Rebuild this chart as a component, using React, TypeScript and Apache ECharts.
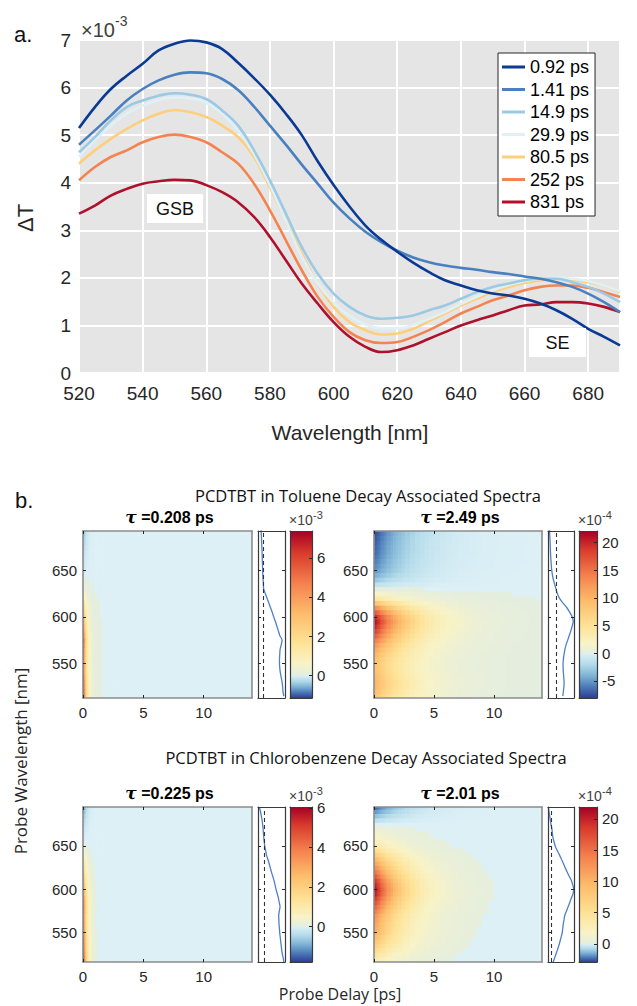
import React, { useEffect, useRef } from 'react';
import * as echarts from 'echarts';

// ---------- Panel a: transient spectra ----------
const WAVELENGTHS = [520, 525, 530, 535, 540, 545, 550, 555, 560, 565, 570, 575, 580, 585, 590, 595, 600, 605, 610, 615, 620, 625, 630, 635, 640, 645, 650, 655, 660, 665, 670, 675, 680, 685, 690];
const LEGEND_LABELS = ['0.92 ps', '1.41 ps', '14.9 ps', '29.9 ps', '80.5 ps', '252 ps', '831 ps'];
const DT_092 = [5.15, 5.59, 5.97, 6.25, 6.5, 6.78, 6.92, 6.99, 6.95, 6.81, 6.52, 6.2, 5.85, 5.45, 5.0, 4.45, 3.95, 3.5, 3.1, 2.8, 2.55, 2.32, 2.12, 1.95, 1.84, 1.74, 1.67, 1.63, 1.56, 1.46, 1.32, 1.14, 0.93, 0.76, 0.58];
const DT_141 = [4.8, 5.1, 5.41, 5.73, 5.97, 6.15, 6.27, 6.32, 6.3, 6.18, 5.95, 5.6, 5.2, 4.8, 4.38, 3.98, 3.58, 3.25, 2.97, 2.75, 2.57, 2.43, 2.33, 2.26, 2.21, 2.17, 2.12, 2.08, 2.03, 1.98, 1.91, 1.81, 1.67, 1.49, 1.28];
const DT_149 = [4.64, 4.96, 5.31, 5.59, 5.73, 5.83, 5.88, 5.85, 5.76, 5.52, 5.2, 4.68, 4.05, 3.35, 2.65, 2.09, 1.67, 1.39, 1.21, 1.14, 1.16, 1.21, 1.32, 1.42, 1.56, 1.7, 1.81, 1.88, 1.95, 1.98, 1.98, 1.91, 1.81, 1.67, 1.49];
const DT_299 = [4.55, 4.9, 5.2, 5.45, 5.62, 5.74, 5.79, 5.77, 5.68, 5.45, 5.1, 4.6, 3.95, 3.2, 2.45, 1.88, 1.48, 1.2, 1.02, 0.94, 0.94, 1.01, 1.14, 1.28, 1.45, 1.6, 1.74, 1.85, 1.93, 1.98, 2.0, 1.98, 1.93, 1.84, 1.72];
const DT_805 = [4.4, 4.68, 4.92, 5.13, 5.31, 5.45, 5.53, 5.48, 5.38, 5.2, 4.96, 4.54, 3.9, 3.21, 2.51, 1.88, 1.39, 1.07, 0.9, 0.81, 0.83, 0.93, 1.09, 1.25, 1.42, 1.56, 1.7, 1.81, 1.89, 1.95, 1.98, 1.96, 1.91, 1.84, 1.7];
const DT_252 = [4.05, 4.33, 4.54, 4.68, 4.85, 4.96, 5.01, 4.96, 4.85, 4.64, 4.4, 3.98, 3.42, 2.79, 2.16, 1.6, 1.18, 0.86, 0.69, 0.63, 0.65, 0.76, 0.9, 1.07, 1.25, 1.39, 1.53, 1.63, 1.74, 1.81, 1.84, 1.84, 1.79, 1.7, 1.6];
const DT_831 = [3.35, 3.52, 3.73, 3.87, 3.98, 4.03, 4.06, 4.05, 3.95, 3.8, 3.59, 3.28, 2.86, 2.37, 1.88, 1.46, 1.07, 0.76, 0.55, 0.44, 0.48, 0.58, 0.72, 0.86, 1.0, 1.11, 1.21, 1.32, 1.42, 1.44, 1.49, 1.49, 1.46, 1.39, 1.28];
const TRACES = [DT_092, DT_141, DT_149, DT_299, DT_805, DT_252, DT_831];
const TRACE_COLORS = ['#0b3a94', '#4a7fc0', '#9cc9e3', '#dff1f6', '#fdcf7c', '#f5834f', '#af102c'];

// ---------- Panel b: decay associated spectra ----------
const PROBE_WL = [515, 520, 525, 530, 535, 540, 545, 550, 555, 560, 565, 570, 575, 580, 585, 590, 595, 600, 605, 610, 615, 620, 625, 630, 635, 640, 645, 650, 655, 660, 665, 670, 675, 680, 685, 690, 695];
const DELAYS = [0, 0.05, 0.1, 0.15, 0.2, 0.25, 0.3, 0.4, 0.5, 0.6, 0.7, 0.8, 0.9, 1.0, 1.1, 1.2, 1.4, 1.6, 1.8, 2.0, 2.3, 2.6, 3.0, 3.4, 3.8, 4.2, 4.6, 5.0, 5.5, 6.0, 6.5, 7.0, 7.5, 8.0, 8.5, 9.0, 9.5, 10.0, 10.5, 11.0, 11.5, 12.0, 12.5, 13.0, 13.5, 14.0];
const DAS_TOL_FAST = [7.2, 6.9, 6.8, 6.6, 6.3, 6.0, 5.8, 5.7, 5.7, 5.8, 5.9, 6.3, 6.6, 5.8, 5.3, 4.8, 4.3, 3.7, 3.2, 2.6, 2.0, 1.4, 0.8, 0.25, 0.15, 0.05, -0.05, -0.1, -0.15, -0.2, -0.25, -0.3, -0.38, -0.45, -0.5, -0.6, -0.65];
const DAS_TOL_SLOW = [8.8, 9.5, 10.2, 10.4, 10.0, 9.5, 9.2, 9.1, 9.6, 10.4, 11.5, 12.9, 15.0, 17.0, 19.0, 20.7, 22.0, 20.7, 17.5, 13.7, 8.8, 4.5, 1.8, 0.1, -1.6, -3.2, -4.4, -5.3, -5.8, -6.2, -6.6, -6.9, -7.1, -7.3, -7.6, -7.9, -8.0];
const DAS_CB_FAST = [6.0, 5.8, 5.5, 5.3, 5.15, 5.0, 4.85, 4.7, 4.6, 4.5, 4.45, 4.4, 4.6, 4.8, 4.55, 4.3, 3.95, 3.6, 3.3, 3.0, 2.6, 2.2, 1.85, 1.5, 1.1, 0.7, 0.45, 0.2, 0.05, -0.1, -0.2, -0.3, -0.45, -0.6, -0.85, -1.1, -1.4];
const DAS_CB_SLOW = [1.9, 3.4, 4.8, 6.3, 7.6, 8.8, 9.9, 10.9, 11.4, 11.9, 12.6, 13.4, 15.0, 16.6, 18.2, 19.7, 21.3, 21.9, 21.0, 19.7, 17.6, 15.6, 13.7, 11.9, 10.0, 8.1, 6.0, 4.1, 3.0, 1.9, 1.4, 0.9, 0.1, -0.6, -1.25, -1.9, -2.5];
const DAS = [DAS_TOL_FAST, DAS_TOL_SLOW, DAS_CB_FAST, DAS_CB_SLOW];
const TAUS = [0.208, 2.49, 0.225, 2.01];
const TAU_LABELS = ['0.208', '2.49', '0.225', '2.01'];
const CB_RANGE = [[-1.16, 7.37], [-8.1, 22.1], [-1.8, 6.05], [-2.9, 21.9]];
const CB_TICKS = [[0, 2, 4, 6], [-5, 0, 5, 10, 15, 20], [0, 2, 4, 6], [0, 5, 10, 15, 20]];
const CB_EXPONENT = ['-3', '-4', '-3', '-4'];
const SIDE_RANGE = [[-1.7, 7.6], [-10, 23], [-1.83, 6.3], [-2.8, 22.2]];
const ZERO_BAND = [0.005, 0.02, 0.035, 0.17];
const WL_RANGE = [[513, 692], [516, 695]];
const WL_TICKS = [550, 600, 650];
const DELAY_TICKS = [0, 5, 10];
const SECTION_TITLES = ['PCDTBT in Toluene Decay Associated Spectra', 'PCDTBT in Chlorobenzene Decay Associated Spectra'];

// ---------- styling ----------
const FONT_A = '"Liberation Sans", Arial, Helvetica, sans-serif';
const FONT_B = '"Open Sans", "Noto Sans", sans-serif';
const POS_STOPS: [number, string][] = [[0, '#e4eedf'], [0.08, '#f8f3c7'], [0.22, '#fee397'], [0.42, '#fdbe6c'], [0.63, '#f5834f'], [0.85, '#d83a2c'], [1, '#a50026']];
const NEG_STOPS: [number, string][] = [[0, '#ddf0f6'], [0.25, '#b3dbea'], [0.5, '#7fb3d5'], [0.75, '#4b7bb8'], [1, '#303c94']];
const ZERO_COLOR = '#ddf0f6';

const HM_LEFT = [83, 374, 83, 374];
const HM_WIDTH = [169, 168, 169, 168];
const SIDE_LEFT = [258, 548, 258, 548];
const SIDE_WIDTH = [27, 26, 27, 26];
const CB_LEFT = [290, 579, 290, 579];
const CB_WIDTH = [22, 18, 22, 18];
const ROW_TOP = [531, 807];
const ROW_HEIGHT = [167, 155];

function hexToRgb(h: string) {
  const n = parseInt(h.slice(1), 16);
  return [(n >> 16) & 255, (n >> 8) & 255, n & 255];
}
function lerpStops(stops: [number, string][], r: number) {
  const x = Math.max(0, Math.min(1, r));
  for (let i = 1; i < stops.length; i++) {
    if (x <= stops[i][0]) {
      const [a0, c0] = stops[i - 1];
      const [a1, c1] = stops[i];
      const f = (x - a0) / (a1 - a0);
      const p = hexToRgb(c0), q = hexToRgb(c1);
      const c = p.map((v, k) => Math.round(v + (q[k] - v) * f));
      return `rgb(${c[0]},${c[1]},${c[2]})`;
    }
  }
  return stops[stops.length - 1][1];
}
function dasColor(v: number, lo: number, hi: number, thr: number) {
  if (v >= thr) return lerpStops(POS_STOPS, v / hi);
  if (v >= 0) return ZERO_COLOR;
  return lerpStops(NEG_STOPS, v / lo);
}

function buildOption() {
  const grids: any[] = [];
  const xAxes: any[] = [];
  const yAxes: any[] = [];
  const series: any[] = [];
  const graphics: any[] = [];
  const labelColor = '#262626';

  // ---- panel a ----
  grids.push({ left: 79, top: 40, width: 541, height: 333, show: true, backgroundColor: '#e5e5e5', borderWidth: 0, outerBoundsMode: 'none' });
  xAxes.push({
    gridIndex: 0, type: 'value', min: 520, max: 690, interval: 20,
    axisLine: { show: false, onZero: false }, axisTick: { show: false },
    splitLine: { show: true, lineStyle: { color: '#ffffff', width: 2 } },
    axisLabel: { fontSize: 19, color: labelColor, margin: 11, fontFamily: FONT_A, showMaxLabel: false },
  });
  yAxes.push({
    gridIndex: 0, type: 'value', min: 0, max: 7, interval: 1,
    axisLine: { show: false, onZero: false }, axisTick: { show: false },
    splitLine: { show: true, lineStyle: { color: '#ffffff', width: 2 } },
    axisLabel: { fontSize: 19, color: labelColor, margin: 8, fontFamily: FONT_A },
  });
  TRACES.forEach((vals, i) => {
    series.push({
      type: 'line', name: LEGEND_LABELS[i], xAxisIndex: 0, yAxisIndex: 0,
      data: WAVELENGTHS.map((w, k) => [w, vals[k]]),
      showSymbol: false, symbol: 'none', smooth: 0.4,
      lineStyle: { color: TRACE_COLORS[i], width: 2.6 }, itemStyle: { color: TRACE_COLORS[i] },
      z: 3 + (TRACES.length - i),
    });
  });

  // ---- panel b ----
  const addAxisPair = (g: number, kind: 'x' | 'y', base: any, second: any) => {
    const arr = kind === 'x' ? xAxes : yAxes;
    const idx = arr.length;
    arr.push({ gridIndex: g, type: 'value', z: 5, ...base });
    arr.push({ gridIndex: g, type: 'value', z: 5, ...second });
    return idx;
  };

  for (let p = 0; p < 4; p++) {
    const row = p < 2 ? 0 : 1;
    const top = ROW_TOP[row];
    const height = ROW_HEIGHT[row];
    const [wlMin, wlMax] = WL_RANGE[row];
    const [lo, hi] = CB_RANGE[p];

    // heatmap grid
    const gH = grids.length;
    grids.push({ left: HM_LEFT[p], top, width: HM_WIDTH[p], height, outerBoundsMode: 'none' });
    const hmLine = { show: true, onZero: false, lineStyle: { color: '#8c8c8c', width: 1.6 } };
    const tickBase = { show: true, inside: true, length: 3, lineStyle: { color: '#262626', width: 1 } };
    const hx = addAxisPair(gH, 'x',
      { position: 'bottom', min: 0, max: 14, axisLine: hmLine, splitLine: { show: false },
        axisTick: { ...tickBase, customValues: DELAY_TICKS },
        axisLabel: { customValues: DELAY_TICKS, fontSize: 15, color: labelColor, margin: 7, fontFamily: FONT_A } },
      { position: 'top', min: 0, max: 14, axisLine: hmLine, splitLine: { show: false },
        axisTick: { ...tickBase, customValues: DELAY_TICKS }, axisLabel: { show: false } });
    const hy = addAxisPair(gH, 'y',
      { position: 'left', min: wlMin, max: wlMax, axisLine: hmLine, splitLine: { show: false },
        axisTick: { ...tickBase, customValues: WL_TICKS },
        axisLabel: { customValues: WL_TICKS, fontSize: 15, color: labelColor, margin: 6, fontFamily: FONT_A } },
      { position: 'right', min: wlMin, max: wlMax, axisLine: hmLine, splitLine: { show: false },
        axisTick: { show: false }, axisLabel: { show: false } });

    const cells: number[][] = [];
    const das = DAS[p];
    for (let j = 0; j < PROBE_WL.length; j++) {
      for (let i = 0; i < DELAYS.length - 1; i++) {
        const v = das[j] * Math.exp(-DELAYS[i] / TAUS[p]);
        cells.push([DELAYS[i], DELAYS[i + 1], PROBE_WL[j] - 2.5, PROBE_WL[j] + 2.5, v]);
      }
    }
    const thr = ZERO_BAND[p];
    series.push({
      type: 'custom', xAxisIndex: hx, yAxisIndex: hy, silent: true,
      encode: { x: [0, 1], y: [2, 3] },
      data: cells,
      renderItem: (params: any, api: any) => {
        const cs = params.coordSys;
        const a = api.coord([api.value(0), api.value(3)]);
        const b = api.coord([api.value(1), api.value(2)]);
        const x0 = Math.max(a[0], cs.x);
        const x1 = Math.min(b[0] + 0.6, cs.x + cs.width);
        const y0 = Math.max(a[1] - 0.4, cs.y);
        const y1 = Math.min(b[1] + 0.4, cs.y + cs.height);
        if (x1 <= x0 || y1 <= y0) return null;
        return {
          type: 'rect', silent: true,
          shape: { x: x0, y: y0, width: x1 - x0, height: y1 - y0 },
          style: { fill: dasColor(api.value(4), lo, hi, thr), stroke: null },
        };
      },
      z: 2,
    });

    // side spectrum grid
    const gS = grids.length;
    grids.push({ left: SIDE_LEFT[p], top, width: SIDE_WIDTH[p], height, outerBoundsMode: 'none' });
    const sLine = { show: true, onZero: false, lineStyle: { color: '#3a3a3a', width: 1.2 } };
    const [sMin, sMax] = SIDE_RANGE[p];
    const sx = addAxisPair(gS, 'x',
      { position: 'bottom', min: sMin, max: sMax, axisLine: sLine, axisTick: { show: false }, axisLabel: { show: false }, splitLine: { show: false } },
      { position: 'top', min: sMin, max: sMax, axisLine: sLine, axisTick: { show: false }, axisLabel: { show: false }, splitLine: { show: false } });
    const sy = addAxisPair(gS, 'y',
      { position: 'left', min: wlMin, max: wlMax, axisLine: sLine, axisTick: { ...tickBase, customValues: WL_TICKS }, axisLabel: { show: false }, splitLine: { show: false } },
      { position: 'right', min: wlMin, max: wlMax, axisLine: sLine, axisTick: { ...tickBase, customValues: WL_TICKS }, axisLabel: { show: false }, splitLine: { show: false } });
    series.push({
      type: 'line', xAxisIndex: sx, yAxisIndex: sy, silent: true,
      data: PROBE_WL.map((w, k) => [das[k], w]),
      showSymbol: false, symbol: 'none', smooth: 0.3, clip: true,
      lineStyle: { color: '#4f80c4', width: 1.3 },
      markLine: {
        silent: true, symbol: 'none', label: { show: false },
        lineStyle: { color: '#333', type: [4, 3], width: 1.1 },
        data: [{ xAxis: 0 }],
      },
    });

    // colorbar grid
    const gC = grids.length;
    grids.push({ left: CB_LEFT[p], top, width: CB_WIDTH[p], height, outerBoundsMode: 'none' });
    const cLine = { show: true, onZero: false, lineStyle: { color: '#3a3a3a', width: 1.2 } };
    const cx = addAxisPair(gC, 'x',
      { position: 'bottom', min: 0, max: 1, axisLine: cLine, axisTick: { show: false }, axisLabel: { show: false }, splitLine: { show: false } },
      { position: 'top', min: 0, max: 1, axisLine: cLine, axisTick: { show: false }, axisLabel: { show: false }, splitLine: { show: false } });
    const cy = addAxisPair(gC, 'y',
      { position: 'left', min: lo, max: hi, axisLine: cLine, axisTick: { show: false }, axisLabel: { show: false }, splitLine: { show: false } },
      { position: 'right', min: lo, max: hi, axisLine: cLine, splitLine: { show: false },
        axisTick: { ...tickBase, customValues: CB_TICKS[p] },
        axisLabel: { customValues: CB_TICKS[p], fontSize: 15, color: labelColor, margin: 5, fontFamily: FONT_A } });
    const stops: { offset: number; color: string }[] = [];
    NEG_STOPS.slice().reverse().forEach(([r, c]) => stops.push({ offset: (lo * r - lo) / (hi - lo), color: c }));
    POS_STOPS.forEach(([r, c]) => stops.push({ offset: (hi * r - lo) / (hi - lo), color: c }));
    series.push({
      type: 'custom', xAxisIndex: cx + 1, yAxisIndex: cy + 1, silent: true,
      data: [[0, 1, lo, hi]],
      encode: { x: [0, 1], y: [2, 3] },
      renderItem: (params: any) => {
        const cs = params.coordSys;
        return {
          type: 'rect', silent: true,
          shape: { x: cs.x, y: cs.y, width: cs.width, height: cs.height },
          style: { fill: new echarts.graphic.LinearGradient(0, 1, 0, 0, stops) },
        };
      },
      z: 2,
    });

    // panel texts
    const cxTitle = HM_LEFT[p] + HM_WIDTH[p] / 2 + 2;
    graphics.push({
      type: 'text', x: cxTitle, y: top - 14, silent: true, z: 100,
      style: {
        text: `{g|τ} =${TAU_LABELS[p]} ps`, align: 'center', verticalAlign: 'middle',
        fontSize: 16, fontWeight: 'bold', fontFamily: FONT_A, fill: '#000',
        rich: { g: { fontSize: 17, fontWeight: 'bold', fontStyle: 'italic', fontFamily: '"DejaVu Serif", serif', fill: '#000' } },
      },
    });
    graphics.push({ type: 'text', x: CB_LEFT[p] - 1, y: top - 11, silent: true, z: 100,
      style: { text: '×10', fontSize: 14, fontFamily: FONT_A, fill: '#404040', align: 'left', verticalAlign: 'middle' } });
    graphics.push({ type: 'text', x: CB_LEFT[p] + 23, y: top - 16, silent: true, z: 100,
      style: { text: CB_EXPONENT[p], fontSize: 11, fontFamily: FONT_A, fill: '#404040', align: 'left', verticalAlign: 'middle' } });
  }

  const T = (text: string, x: number, y: number, size: number, o: any = {}) => ({
    type: 'text', x, y, rotation: o.rot || 0, silent: true, z: 100,
    style: {
      text, fontSize: size, fontFamily: o.font || FONT_A, fontWeight: o.weight || 'normal',
      fill: o.color || '#262626', align: o.align || 'center', verticalAlign: o.va || 'middle',
    },
  });

  graphics.push(T('a.', 14, 34, 22, { align: 'left', color: '#111' }));
  graphics.push(T('×10', 81, 30, 20, { align: 'left', color: '#404040' }));
  graphics.push(T('-3', 115, 21, 14, { align: 'left', color: '#404040' }));
  graphics.push(T('ΔT', 25, 218, 22, { rot: Math.PI / 2 }));
  graphics.push(T('Wavelength [nm]', 350, 432, 21));
  graphics.push({ type: 'rect', shape: { x: 147, y: 194, width: 56, height: 29 }, style: { fill: '#ffffff' }, z: 90, silent: true });
  graphics.push(T('GSB', 175, 209, 18, { color: '#111' }));
  graphics.push({ type: 'rect', shape: { x: 529, y: 328, width: 57, height: 29 }, style: { fill: '#ffffff' }, z: 90, silent: true });
  graphics.push(T('SE', 557.5, 343, 18, { color: '#111' }));

  graphics.push(T('b.', 15, 500, 22, { align: 'left', color: '#111' }));
  graphics.push(T(SECTION_TITLES[0], 368, 495, 16.5, { font: FONT_B, color: '#111' }));
  graphics.push(T(SECTION_TITLES[1], 366, 757, 16.5, { font: FONT_B, color: '#111' }));
  graphics.push(T('Probe Wavelength [nm]', 20, 761, 17, { rot: Math.PI / 2, font: FONT_B }));
  graphics.push(T('Probe Delay [ps]', 340, 994, 16, { font: FONT_B }));

  return {
    animation: false,
    backgroundColor: '#ffffff',
    grid: grids,
    xAxis: xAxes,
    yAxis: yAxes,
    legend: {
      show: true, orient: 'vertical', left: 498, top: 53, selectedMode: false,
      itemWidth: 23, itemHeight: 3, itemGap: 4.5, icon: 'rect',
      padding: [5, 6, 5, 4], borderColor: '#262626', borderWidth: 1, backgroundColor: '#ffffff',
      textStyle: { fontSize: 18, color: '#000', fontFamily: FONT_A },
      data: LEGEND_LABELS,
      z: 50,
    },
    series,
    graphic: { elements: graphics },
  };
}

export default function App() {
  const ref = useRef<HTMLDivElement>(null);
  useEffect(() => {
    if (!ref.current) return;
    const chart = echarts.init(ref.current, undefined, { renderer: 'svg' });
    chart.setOption(buildOption() as any);
    return () => chart.dispose();
  }, []);
  return <div ref={ref} style={{ position: 'absolute', left: 0, top: 0, width: 637, height: 1006, background: '#fff' }} />;
}
